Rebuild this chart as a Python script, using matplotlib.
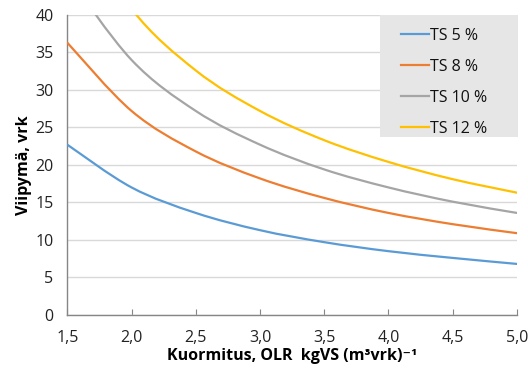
import matplotlib
matplotlib.use("Agg")
import matplotlib.pyplot as plt
from matplotlib.path import Path
from matplotlib.patches import PathPatch, Rectangle
from matplotlib.lines import Line2D

plt.rcParams['font.family'] = ['Open Sans', 'DejaVu Sans']

olr = [1.5, 2.0, 2.5, 3.0, 3.5, 4.0, 4.5, 5.0]
ts5 = [22.7, 17.0, 13.6, 11.3, 9.7, 8.5, 7.6, 6.8]
ts8 = [36.3, 27.2, 21.8, 18.2, 15.6, 13.6, 12.1, 10.9]
ts10 = [45.3, 34.0, 27.2, 22.7, 19.4, 17.0, 15.1, 13.6]
ts12 = [54.4, 40.8, 32.6, 27.2, 23.3, 20.4, 18.1, 16.3]
labels = ['TS 5 %', 'TS 8 %', 'TS 10 %', 'TS 12 %']
colors = ['#5B9BD5', '#ED7D31', '#A5A5A5', '#FFC000']
x_ticks = [1.5, 2.0, 2.5, 3.0, 3.5, 4.0, 4.5, 5.0]
x_ticklabels = ['1,5', '2,0', '2,5', '3,0', '3,5', '4,0', '4,5', '5,0']
y_ticks = [0, 5, 10, 15, 20, 25, 30, 35, 40]


def smooth_path(xs, ys):
    # Excel-style smoothed line: cubic Bezier segments through the data points
    pts = list(zip(xs, ys))
    n = len(pts)
    verts = [pts[0]]
    codes = [Path.MOVETO]
    for i in range(n - 1):
        p0 = pts[i - 1] if i > 0 else pts[i]
        p1 = pts[i]
        p2 = pts[i + 1]
        p3 = pts[i + 2] if i + 2 < n else pts[i + 1]
        c1 = (p1[0] + (p2[0] - p0[0]) / 6, p1[1] + (p2[1] - p0[1]) / 6)
        c2 = (p2[0] - (p3[0] - p1[0]) / 6, p2[1] - (p3[1] - p1[1]) / 6)
        verts += [c1, c2, p2]
        codes += [Path.CURVE4] * 3
    return Path(verts, codes)


fig = plt.figure(figsize=(5.28, 3.74), dpi=100)
ax = fig.add_axes([0.1275, 0.158, 0.8515, 0.802])

for ys, c in zip([ts5, ts8, ts10, ts12], colors):
    patch = PathPatch(smooth_path(olr, ys), facecolor='none', edgecolor=c,
                      lw=1.6, zorder=3, capstyle='round')
    ax.add_patch(patch)

ax.set_xlim(1.5, 5.0)
ax.set_ylim(0, 40)
ax.set_xticks(x_ticks)
ax.set_xticklabels(x_ticklabels)
ax.set_yticks(y_ticks)
ax.grid(axis='y', color='#D9D9D9', lw=1.0, zorder=0)
ax.set_axisbelow(True)
for s in ['top', 'right']:
    ax.spines[s].set_visible(False)
for s in ['left', 'bottom']:
    ax.spines[s].set_color('#868686')
    ax.spines[s].set_linewidth(1.0)
ax.tick_params(axis='x', direction='in', length=4, color='#868686',
               labelsize=11.5, pad=11, labelcolor='#222222')
ax.tick_params(axis='y', length=0, labelsize=11.5, pad=10, labelcolor='#222222')

ax.set_xlabel('Kuormitus, OLR  kgVS (m³vrk)⁻¹', fontsize=11.5,
              fontweight='bold', labelpad=1)
ax.set_ylabel('Viipymä, vrk', fontsize=11.5, fontweight='bold', labelpad=2)

# legend background box
ax.add_patch(Rectangle((0.695, 0.593), 0.307, 0.407, transform=ax.transAxes,
                       facecolor='#E7E6E6', edgecolor='none', zorder=4,
                       clip_on=False))
handles = [Line2D([], [], color=c, lw=1.6) for c in colors]
leg = ax.legend(handles, labels, loc='upper left',
                bbox_to_anchor=(0.742, 0.958), frameon=False,
                fontsize=11.5, handlelength=1.75, handletextpad=0.05,
                labelspacing=0.95, borderpad=0.0, borderaxespad=0.0)
leg.set_zorder(5)
for t in leg.get_texts():
    t.set_color('#111111')

fig.savefig('out.png', dpi=100)
